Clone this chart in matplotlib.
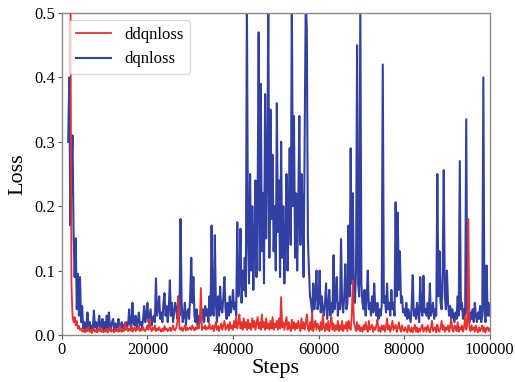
import numpy as np
import matplotlib
matplotlib.use("Agg")
import matplotlib.pyplot as plt

# Steps sampled every 250 from 1500 to 100000
steps = np.arange(1500, 100001, 250)

dqn_chunks = [
    [0.30, 0.40, 0.17, 0.25, 0.31, 0.16, 0.09, 0.15, 0.04, 0.095, 0.03, 0.09, 0.02, 0.045],
    [0.01, 0.02, 0.008, 0.015, 0.035, 0.01, 0.02, 0.006, 0.015, 0.01, 0.038, 0.012, 0.02, 0.008, 0.018, 0.03, 0.01, 0.015, 0.025, 0.008],
    [0.02, 0.01, 0.03, 0.006, 0.035, 0.015, 0.01, 0.02, 0.025, 0.008, 0.018, 0.01, 0.015, 0.025, 0.006, 0.012, 0.02, 0.01, 0.016, 0.008],
    [0.02, 0.012, 0.018, 0.04, 0.015, 0.01, 0.05, 0.02, 0.015, 0.03, 0.012, 0.02, 0.035, 0.015, 0.02, 0.012, 0.025, 0.045, 0.02, 0.03],
    [0.05, 0.02, 0.03, 0.04, 0.015, 0.025, 0.03, 0.02, 0.088, 0.03, 0.04, 0.06, 0.025, 0.035, 0.02, 0.05, 0.065, 0.03, 0.045, 0.02],
    [0.04, 0.085, 0.03, 0.05, 0.02, 0.035, 0.05, 0.04, 0.025, 0.06, 0.03, 0.18, 0.05, 0.02, 0.03, 0.05, 0.015, 0.035, 0.04, 0.025],
    [0.06, 0.12, 0.05, 0.09, 0.03, 0.02, 0.04, 0.015, 0.03, 0.02, 0.035, 0.025, 0.04, 0.02, 0.045, 0.03, 0.04, 0.02, 0.06, 0.03],
    [0.17, 0.04, 0.03, 0.155, 0.05, 0.02, 0.06, 0.03, 0.075, 0.04, 0.035, 0.06, 0.09, 0.04, 0.025, 0.05, 0.03, 0.06, 0.035, 0.045],
    [0.07, 0.04, 0.05, 0.03, 0.175, 0.06, 0.08, 0.165, 0.05, 0.10, 0.07, 0.12, 0.06, 0.52, 0.15, 0.08, 0.25, 0.10, 0.20, 0.07],
    [0.15, 0.24, 0.09, 0.20, 0.47, 0.10, 0.39, 0.13, 0.22, 0.08, 0.374, 0.15, 0.25, 0.52, 0.12, 0.35, 0.18, 0.28, 0.13, 0.20],
    [0.10, 0.36, 0.16, 0.24, 0.09, 0.30, 0.12, 0.20, 0.08, 0.15, 0.25, 0.10, 0.18, 0.29, 0.14, 0.52, 0.20, 0.34, 0.12, 0.22],
    [0.10, 0.20, 0.34, 0.14, 0.25, 0.20, 0.09, 0.30, 0.52, 0.476, 0.15, 0.10, 0.06, 0.05, 0.035, 0.08, 0.04, 0.06, 0.10, 0.04],
    [0.05, 0.10, 0.035, 0.06, 0.04, 0.03, 0.05, 0.08, 0.025, 0.045, 0.07, 0.03, 0.05, 0.035, 0.124, 0.04, 0.06, 0.09, 0.03, 0.05],
    [0.04, 0.149, 0.05, 0.035, 0.06, 0.11, 0.04, 0.05, 0.17, 0.06, 0.29, 0.08, 0.22, 0.06, 0.05, 0.10, 0.45, 0.08, 0.06, 0.52],
    [0.08, 0.05, 0.04, 0.07, 0.03, 0.06, 0.10, 0.04, 0.05, 0.03, 0.06, 0.035, 0.08, 0.04, 0.03, 0.05, 0.025, 0.04, 0.03, 0.045],
    [0.42, 0.05, 0.06, 0.035, 0.08, 0.04, 0.05, 0.03, 0.07, 0.04, 0.05, 0.03, 0.206, 0.06, 0.19, 0.07, 0.13, 0.05, 0.06, 0.035],
    [0.04, 0.03, 0.05, 0.025, 0.04, 0.03, 0.02, 0.045, 0.093, 0.03, 0.04, 0.025, 0.05, 0.035, 0.02, 0.09, 0.04, 0.03, 0.092, 0.035],
    [0.04, 0.03, 0.05, 0.025, 0.08, 0.03, 0.04, 0.05, 0.025, 0.04, 0.03, 0.25, 0.06, 0.13, 0.05, 0.04, 0.10, 0.256, 0.06, 0.04],
    [0.10, 0.05, 0.03, 0.045, 0.025, 0.04, 0.03, 0.02, 0.035, 0.025, 0.06, 0.03, 0.27, 0.04, 0.05, 0.025, 0.04, 0.03, 0.335, 0.035],
    [0.03, 0.02, 0.035, 0.025, 0.04, 0.02, 0.05, 0.03, 0.02, 0.035, 0.025, 0.045, 0.02, 0.03, 0.40, 0.04, 0.02, 0.108, 0.03, 0.05],
    [0.03],
]

ddqn_chunks = [
    [np.nan, 0.55, 0.60, 0.08, 0.03, 0.02, 0.028, 0.015, 0.022, 0.01, 0.014, 0.008, 0.01, 0.006],
    [0.005, 0.008, 0.004, 0.01, 0.006, 0.012, 0.005, 0.008, 0.003, 0.007, 0.01, 0.005, 0.008, 0.004, 0.009, 0.006, 0.012, 0.005, 0.007, 0.004],
    [0.008, 0.005, 0.01, 0.004, 0.007, 0.012, 0.005, 0.008, 0.006, 0.004, 0.01, 0.006, 0.008, 0.005, 0.015, 0.007, 0.005, 0.009, 0.006, 0.02],
    [0.008, 0.012, 0.006, 0.01, 0.007, 0.015, 0.005, 0.009, 0.012, 0.006, 0.01, 0.008, 0.014, 0.006, 0.01, 0.007, 0.012, 0.008, 0.006, 0.01],
    [0.015, 0.008, 0.025, 0.01, 0.006, 0.012, 0.008, 0.015, 0.006, 0.01, 0.007, 0.012, 0.008, 0.005, 0.01, 0.006, 0.014, 0.008, 0.01, 0.006],
    [0.008, 0.012, 0.006, 0.01, 0.015, 0.008, 0.007, 0.012, 0.02, 0.059, 0.01, 0.008, 0.012, 0.006, 0.01, 0.015, 0.007, 0.012, 0.008, 0.01],
    [0.012, 0.008, 0.015, 0.01, 0.007, 0.012, 0.009, 0.015, 0.01, 0.02, 0.073, 0.008, 0.012, 0.01, 0.015, 0.008, 0.012, 0.01, 0.018, 0.009],
    [0.01, 0.015, 0.006, 0.012, 0.02, 0.008, 0.014, 0.006, 0.012, 0.018, 0.008, 0.015, 0.022, 0.008, 0.012, 0.016, 0.007, 0.02, 0.01, 0.015],
    [0.008, 0.022, 0.012, 0.028, 0.01, 0.018, 0.032, 0.01, 0.02, 0.008, 0.026, 0.012, 0.02, 0.008, 0.024, 0.01, 0.018, 0.008, 0.026, 0.012],
    [0.022, 0.008, 0.018, 0.028, 0.01, 0.02, 0.008, 0.032, 0.012, 0.02, 0.008, 0.026, 0.01, 0.018, 0.008, 0.022, 0.01, 0.028, 0.008, 0.018],
    [0.012, 0.022, 0.008, 0.026, 0.01, 0.059, 0.012, 0.02, 0.008, 0.018, 0.028, 0.008, 0.02, 0.012, 0.006, 0.024, 0.01, 0.02, 0.008, 0.018],
    [0.01, 0.022, 0.012, 0.006, 0.026, 0.01, 0.02, 0.008, 0.018, 0.032, 0.01, 0.006, 0.02, 0.008, 0.035, 0.006, 0.015, 0.022, 0.008, 0.018],
    [0.012, 0.006, 0.02, 0.008, 0.032, 0.012, 0.006, 0.018, 0.008, 0.022, 0.006, 0.015, 0.028, 0.008, 0.018, 0.006, 0.015, 0.008, 0.022, 0.006],
    [0.015, 0.008, 0.022, 0.006, 0.015, 0.01, 0.02, 0.006, 0.022, 0.012, 0.008, 0.03, 0.085, 0.02, 0.012, 0.006, 0.02, 0.008, 0.015, 0.006],
    [0.012, 0.005, 0.015, 0.008, 0.02, 0.01, 0.005, 0.022, 0.008, 0.012, 0.016, 0.005, 0.012, 0.008, 0.015, 0.024, 0.006, 0.012, 0.005, 0.015],
    [0.008, 0.015, 0.005, 0.012, 0.026, 0.008, 0.015, 0.005, 0.012, 0.022, 0.008, 0.012, 0.016, 0.005, 0.01, 0.02, 0.01, 0.005, 0.015, 0.008],
    [0.006, 0.012, 0.008, 0.004, 0.015, 0.008, 0.005, 0.012, 0.004, 0.01, 0.016, 0.005, 0.012, 0.004, 0.01, 0.006, 0.012, 0.016, 0.005, 0.01],
    [0.012, 0.005, 0.015, 0.008, 0.004, 0.012, 0.022, 0.006, 0.01, 0.012, 0.004, 0.016, 0.008, 0.005, 0.012, 0.022, 0.008, 0.015, 0.005, 0.012],
    [0.008, 0.015, 0.005, 0.012, 0.026, 0.008, 0.005, 0.015, 0.012, 0.006, 0.02, 0.005, 0.012, 0.008, 0.015, 0.005, 0.012, 0.03, 0.008, 0.015],
    [0.18, 0.012, 0.006, 0.015, 0.008, 0.012, 0.005, 0.015, 0.008, 0.004, 0.012, 0.006, 0.01, 0.015, 0.005, 0.012, 0.004, 0.01, 0.012, 0.006],
    [0.01],
]

dqnloss = np.concatenate([np.array(c, dtype=float) for c in dqn_chunks])
ddqnloss = np.concatenate([np.array(c, dtype=float) for c in ddqn_chunks])

xticks = [0, 20000, 40000, 60000, 80000, 100000]
yticks = [0.0, 0.1, 0.2, 0.3, 0.4, 0.5]

plt.rcParams['font.family'] = ['Liberation Serif', 'DejaVu Serif']

fig = plt.figure(figsize=(5.15, 3.82), dpi=100)
ax = fig.add_axes([0.120, 0.123, 0.831, 0.843])

l_dqn, = ax.plot(steps, dqnloss, color='#3340a3', lw=1.5, label='dqnloss', zorder=2)
l_ddqn, = ax.plot(steps, ddqnloss, color='#e8302c', lw=1.3, label='ddqnloss', zorder=3)

ax.set_xlim(0, 100000)
ax.set_ylim(0, 0.5)
ax.set_xticks(xticks)
ax.set_yticks(yticks)
ax.set_xticklabels([str(v) for v in xticks])
ax.set_yticklabels([f"{v:.1f}" for v in yticks])
ax.tick_params(labelsize=12, length=3, width=0.8, color='#555555', pad=2)

for s in ax.spines.values():
    s.set_color('#8a8a8a')
    s.set_linewidth(1.0)

ax.set_xlabel('Steps', fontsize=16, labelpad=1)
ax.set_ylabel('Loss', fontsize=16, labelpad=5)

leg = ax.legend(handles=[l_ddqn, l_dqn], loc='upper left', fontsize=12,
                frameon=True, handlelength=2.1, borderaxespad=0.45,
                bbox_to_anchor=(0.0, 1.0))
leg.get_frame().set_edgecolor('#d0d0d0')

fig.savefig('out.png', dpi=100)
